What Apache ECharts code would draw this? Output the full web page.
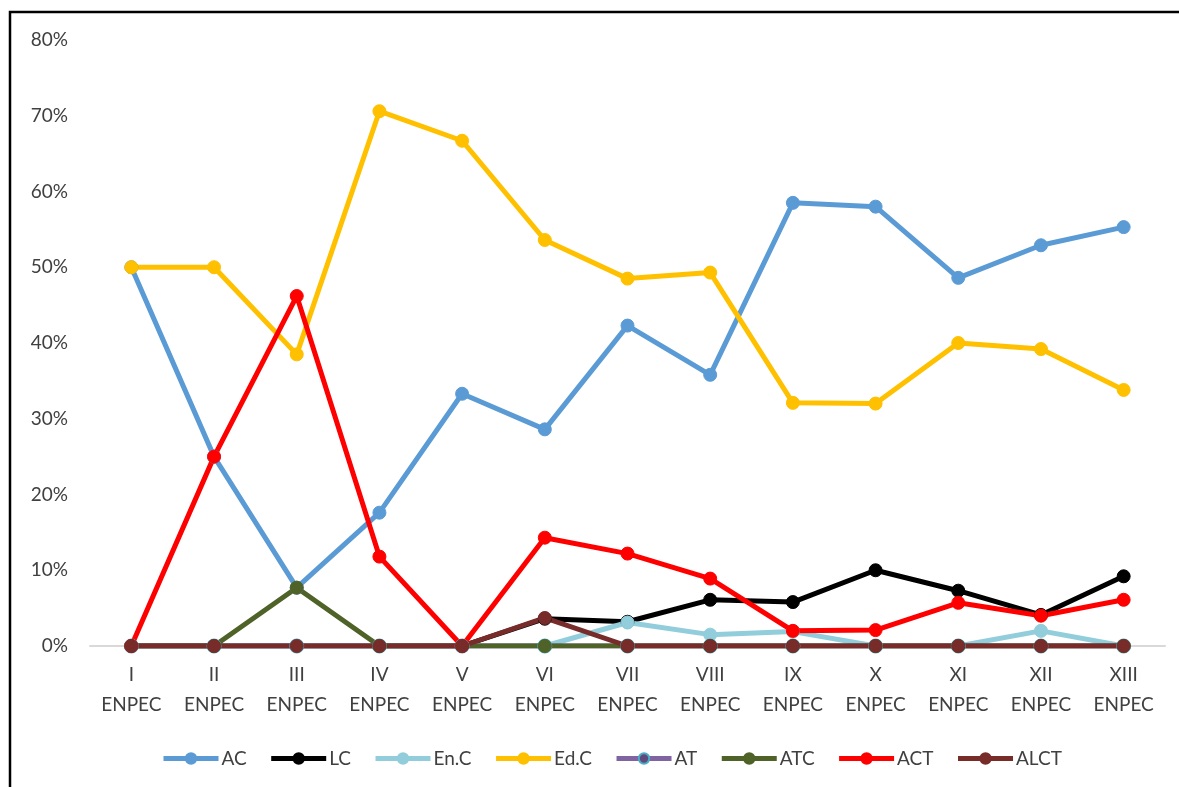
<!DOCTYPE html>
<html>
<head>
<meta charset="utf-8">
<script src="https://cdn.jsdelivr.net/npm/echarts@6/dist/echarts.min.js"></script>
<style>
  html, body { margin: 0; padding: 0; background: #fff; }
  #chart { width: 1179px; height: 787px; }
</style>
</head>
<body>
<div id="chart"></div>
<script>
const categories = ['I\nENPEC','II\nENPEC','III\nENPEC','IV\nENPEC','V\nENPEC','VI\nENPEC','VII\nENPEC','VIII\nENPEC','IX\nENPEC','X\nENPEC','XI\nENPEC','XII\nENPEC','XIII\nENPEC'];
const yTicks = { min: 0, max: 80, interval: 10 };

const AC   = [50, 25, 7.7, 17.6, 33.3, 28.6, 42.3, 35.8, 58.5, 58.0, 48.6, 52.9, 55.3];
const LC   = [0, 0, 0, 0, 0, 3.6, 3.2, 6.1, 5.8, 10.0, 7.3, 4.1, 9.2];
const EnC  = [0, 0, 0, 0, 0, 0, 3.1, 1.5, 1.9, 0, 0, 2.0, 0];
const EdC  = [50, 50, 38.5, 70.6, 66.7, 53.6, 48.5, 49.3, 32.1, 32.0, 40.0, 39.2, 33.8];
const AT   = [0, 0, 0, 0, 0, 0, 0, 0, 0, 0, 0, 0, 0];
const ATC  = [0, 0, 7.7, 0, 0, 0, 0, 0, 0, 0, 0, 0, 0];
const ACT  = [0, 25, 46.2, 11.8, 0, 14.3, 12.2, 8.9, 2.0, 2.1, 5.7, 4.0, 6.1];
const ALCT = [0, 0, 0, 0, 0, 3.7, 0, 0, 0, 0, 0, 0, 0];

const FONT = 'Lato, "Liberation Sans", sans-serif';
const TXT = '#404040';

function mk(name, data, color, extra) {
  return Object.assign({
    name: name,
    type: 'line',
    data: data,
    symbol: 'circle',
    symbolSize: 13,
    lineStyle: { color: color, width: 5 },
    itemStyle: { color: color, borderColor: color, borderWidth: 1 },
    emphasis: { disabled: true },
    animation: false
  }, extra || {});
}

const chart = echarts.init(document.getElementById('chart'), null, { renderer: 'canvas' });
chart.setOption({
  backgroundColor: '#fff',
  animation: false,
  textStyle: { fontFamily: FONT },
  graphic: [{
    type: 'rect',
    shape: { x: 10, y: 12, width: 1300, height: 900 },
    style: { fill: 'none', stroke: '#000', lineWidth: 2.5 },
    silent: true,
    z: 100
  }],
  grid: { left: 90, right: 14, top: 40, bottom: 141, containLabel: false },
  legend: {
    left: 156,
    top: 744,
    itemWidth: 55,
    itemHeight: 13,
    itemGap: 22,
    lineStyle: { width: 5 },
    textStyle: { fontFamily: FONT, fontSize: 19, color: TXT, padding: [0, 0, 0, -2] },
    data: ['AC','LC','En.C','Ed.C','AT','ATC','ACT','ALCT']
  },
  xAxis: {
    type: 'category',
    data: categories,
    boundaryGap: true,
    axisLine: { show: true, lineStyle: { color: '#d9d9d9', width: 2 } },
    axisTick: { show: false },
    axisLabel: { fontFamily: FONT, fontSize: 19, color: TXT, lineHeight: 30, margin: 14, interval: 0 },
    splitLine: { show: false }
  },
  yAxis: {
    type: 'value',
    min: yTicks.min,
    max: yTicks.max,
    interval: yTicks.interval,
    axisLine: { show: false },
    axisTick: { show: false },
    splitLine: { show: false },
    axisLabel: { fontFamily: FONT, fontSize: 19, color: TXT, margin: 22, formatter: '{value}%' }
  },
  series: [
    mk('AC', AC, '#5B9BD5'),
    mk('LC', LC, '#000000'),
    mk('En.C', EnC, '#92CDDC'),
    mk('Ed.C', EdC, '#FFC000'),
    mk('AT', AT, '#8064A2', { itemStyle: { color: '#604A7B', borderColor: '#4BACC6', borderWidth: 2 } }),
    mk('ATC', ATC, '#4F6228'),
    mk('ACT', ACT, '#FF0000'),
    mk('ALCT', ALCT, '#772C2A')
  ]
});
</script>
</body>
</html>
